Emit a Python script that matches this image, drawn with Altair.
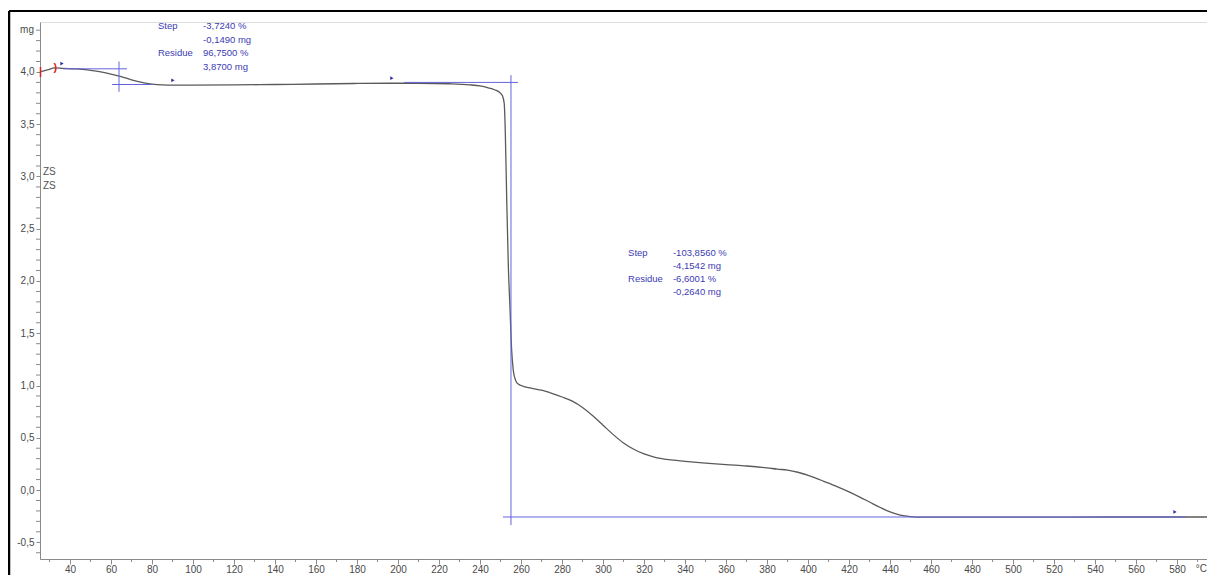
import altair as alt
import pandas as pd

# ---- data ----
temp = [25.4, 29.0, 32.7, 36.6, 42.0, 46.0, 50.0, 55.0, 60.0, 65.0, 70.0, 75.0, 80.0,
        85.0, 90.0, 100.0, 120.0, 140.0, 160.0, 180.0, 196.0, 210.0, 225.0, 235.0,
        240.0, 244.0, 247.0, 249.5, 251.0, 251.8, 252.3, 253.0, 253.8, 254.6, 255.4,
        256.2, 257.0, 258.0, 260.0, 265.0, 270.0, 275.0, 280.0, 285.0, 290.0, 295.0,
        300.0, 305.0, 310.0, 315.0, 320.0, 325.0, 332.0, 340.0, 350.0, 360.0, 370.0,
        380.0, 385.0, 390.0, 395.0, 400.0, 405.0, 410.0, 415.0, 420.0, 425.0, 430.0,
        435.0, 440.0, 445.0, 450.0, 455.0, 500.0, 550.0, 594.6]
mass = [4.00, 4.02, 4.04, 4.035, 4.03, 4.025, 4.015, 4.00, 3.98, 3.955, 3.925, 3.90, 3.884,
        3.876, 3.874, 3.874, 3.876, 3.88, 3.885, 3.89, 3.892, 3.892, 3.887, 3.877,
        3.866, 3.848, 3.83, 3.805, 3.77, 3.70, 3.45, 2.80, 2.15, 1.75, 1.35,
        1.15, 1.07, 1.025, 1.00, 0.975, 0.955, 0.925, 0.89, 0.85, 0.79, 0.71,
        0.62, 0.53, 0.45, 0.39, 0.345, 0.315, 0.29, 0.275, 0.258, 0.243, 0.23,
        0.212, 0.20, 0.19, 0.17, 0.14, 0.105, 0.065, 0.025, -0.018, -0.065, -0.115,
        -0.165, -0.21, -0.24, -0.255, -0.26, -0.26, -0.258, -0.258]

# tangent / step construction lines (blue)
tan_x1 = [36.6, 60.5, 63.9, 203.0, 255.1, 251.2]
tan_x2 = [67.8, 80.0, 63.9, 258.5, 255.1, 584.0]
tan_y1 = [4.03, 3.88, 3.81, 3.90, -0.335, -0.258]
tan_y2 = [4.03, 3.88, 4.10, 3.90, 3.97, -0.258]

# evaluation flags
flag_t = [36.1, 90.2, 197.0, 579.0]
flag_m = [4.08, 3.92, 3.94, -0.21]

# annotation texts
ann_label_text = ["Step", "Residue", "Step", "Residue"]
ann_label_t = [82.9, 82.9, 312.2, 312.2]
ann_label_m = [4.44, 4.18, 2.27, 2.02]
ann_val_text = ["-3,7240 %", "-0,1490 mg", "96,7500 %", "3,8700 mg",
                "-103,8560 %", "-4,1542 mg", "-6,6001 %", "-0,2640 mg"]
ann_val_t = [104.9, 104.9, 104.9, 104.9, 334.1, 334.1, 334.1, 334.1]
ann_val_m = [4.44, 4.31, 4.18, 4.05, 2.27, 2.14, 2.02, 1.89]

zs_text = ["ZS", "ZS"]
zs_t = [26.8, 26.8]
zs_m = [3.04, 2.91]

red_text = ["|", ")"]
red_t = [25.6, 32.9]
red_m = [4.00, 4.035]

x_major = [40, 60, 80, 100, 120, 140, 160, 180, 200, 220, 240, 260, 280, 300, 320, 340,
           360, 380, 400, 420, 440, 460, 480, 500, 520, 540, 560, 580]
x_minor = [30, 50, 70, 90, 110, 130, 150, 170, 190, 210, 230, 250, 270, 290, 310, 330,
           350, 370, 390, 410, 430, 450, 470, 490, 510, 530, 550, 570, 590]
y_major = [-0.5, 0.0, 0.5, 1.0, 1.5, 2.0, 2.5, 3.0, 3.5, 4.0]
y_minor = [-0.6, -0.4, -0.3, -0.2, -0.1, 0.1, 0.2, 0.3, 0.4, 0.6, 0.7, 0.8, 0.9,
           1.1, 1.2, 1.3, 1.4, 1.6, 1.7, 1.8, 1.9, 2.1, 2.2, 2.3, 2.4, 2.6, 2.7, 2.8,
           2.9, 3.1, 3.2, 3.3, 3.4, 3.6, 3.7, 3.8, 3.9, 4.1, 4.2, 4.3, 4.4]
unit_y = ["mg"]
unit_y_at = [4.4]

# ---- layout ----
W, H = 1167, 537
XMIN, XMAX = 25.37, 594.6
YMIN, YMAX = -0.66, 4.478
FONT = "Liberation Sans"
AXC = "#8a8a8a"
LBL = "#4a4a4a"
BLUE = "#6464dc"
TXTBLUE = "#3c3cb4"

xs = alt.Scale(domain=[XMIN, XMAX], nice=False, zero=False)
ys = alt.Scale(domain=[YMIN, YMAX], nice=False, zero=False)

xaxis = alt.Axis(values=x_major, title=None, grid=False, format="d",
                 tickSize=5, tickColor=AXC, domainColor=AXC, labelColor=LBL,
                 labelFont=FONT, labelFontSize=10, labelPadding=0,
                 labelOverlap=False, labelFlush=False)
yaxis = alt.Axis(values=y_major, title=None, grid=False,
                 labelExpr="(datum.value < -1e-9 ? '-' : '') + "
                           "replace(format(abs(datum.value), '.1f'), '.', ',')",
                 tickSize=4, tickColor=AXC, domainColor=AXC, labelColor=LBL,
                 labelFont=FONT, labelFontSize=10, labelPadding=2,
                 labelOverlap=False, labelFlush=False)

curve_df = pd.DataFrame({"T": temp, "m": mass})
curve = alt.Chart(curve_df).mark_line(color="#5a5a5a", strokeWidth=1.3,
                                      interpolate="monotone").encode(
    x=alt.X("T:Q", scale=xs, axis=xaxis),
    y=alt.Y("m:Q", scale=ys, axis=yaxis),
)

xminor_df = pd.DataFrame({"T": x_minor})
xminor = alt.Chart(xminor_df).mark_rule(color=AXC, strokeWidth=1).encode(
    x=alt.X("T:Q", scale=xs), y=alt.value(H), y2=alt.value(H + 3))

yminor_df = pd.DataFrame({"m": y_minor})
yminor = alt.Chart(yminor_df).mark_rule(color=AXC, strokeWidth=1).encode(
    y=alt.Y("m:Q", scale=ys), x=alt.value(-4), x2=alt.value(0))

unit_df = pd.DataFrame({"m": unit_y_at, "t": unit_y})
unit_mg = alt.Chart(unit_df).mark_text(align="right", baseline="middle", font=FONT,
                                       fontSize=10, color=LBL).encode(
    y=alt.Y("m:Q", scale=ys), x=alt.value(-6), text="t:N")

tan_df = pd.DataFrame({"x1": tan_x1, "x2": tan_x2, "y1": tan_y1, "y2": tan_y2})
tangents = alt.Chart(tan_df).mark_rule(color=BLUE, strokeWidth=1).encode(
    x=alt.X("x1:Q", scale=xs), x2="x2:Q",
    y=alt.Y("y1:Q", scale=ys), y2="y2:Q")

flag_df = pd.DataFrame({"T": flag_t, "m": flag_m})
flags = alt.Chart(flag_df).mark_point(shape="triangle-right", filled=True, size=14,
                                      color="#2a2aa0", opacity=1).encode(
    x=alt.X("T:Q", scale=xs), y=alt.Y("m:Q", scale=ys))

lab_df = pd.DataFrame({"T": ann_label_t, "m": ann_label_m, "t": ann_label_text})
labels = alt.Chart(lab_df).mark_text(align="left", baseline="middle", font=FONT,
                                     fontSize=9.5, color=TXTBLUE).encode(
    x=alt.X("T:Q", scale=xs), y=alt.Y("m:Q", scale=ys), text="t:N")

val_df = pd.DataFrame({"T": ann_val_t, "m": ann_val_m, "t": ann_val_text})
values = alt.Chart(val_df).mark_text(align="left", baseline="middle", font=FONT,
                                     fontSize=9.5, color=TXTBLUE).encode(
    x=alt.X("T:Q", scale=xs), y=alt.Y("m:Q", scale=ys), text="t:N")

zs_df = pd.DataFrame({"T": zs_t, "m": zs_m, "t": zs_text})
zs = alt.Chart(zs_df).mark_text(align="left", baseline="middle", font=FONT,
                                fontSize=10, color="#555555").encode(
    x=alt.X("T:Q", scale=xs), y=alt.Y("m:Q", scale=ys), text="t:N")

red_df = pd.DataFrame({"T": red_t, "m": red_m, "t": red_text})
reds = alt.Chart(red_df).mark_text(align="center", baseline="middle", font=FONT,
                                   fontSize=11, fontWeight="bold", color="#e02020").encode(
    x=alt.X("T:Q", scale=xs), y=alt.Y("m:Q", scale=ys), text="t:N")

one = pd.DataFrame({"a": [0]})
frame_left = alt.Chart(one).mark_rule(color="black", strokeWidth=2.5).encode(
    x=alt.value(-31), y=alt.value(-11), y2=alt.value(H + 40))
frame_top = alt.Chart(one).mark_rule(color="black", strokeWidth=2).encode(
    x=alt.value(-31), x2=alt.value(W + 4), y=alt.value(-11))
unit = alt.Chart(one).mark_text(align="right", baseline="top", font=FONT, fontSize=10,
                                color=LBL).encode(
    x=alt.value(W), y=alt.value(H + 5), text=alt.value("°C"))

chart = alt.layer(
    curve, xminor, yminor, unit_mg, tangents, flags, labels, values, zs, reds,
    frame_left, frame_top, unit
).properties(
    width=W, height=H,
    padding={"left": 32, "top": 14, "right": 0, "bottom": 16},
    autosize=alt.AutoSizeParams(type="none"),
).configure_view(stroke=None).configure(background="white")

chart.save("out.html", embed_options={"renderer": "svg", "actions": False})
